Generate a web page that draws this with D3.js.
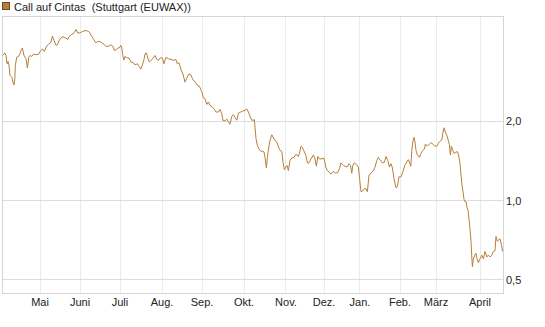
<!DOCTYPE html>
<html><head><meta charset="utf-8">
<script src="https://cdn.jsdelivr.net/npm/d3@7"></script>
<style>html,body{margin:0;padding:0;background:#fff;}svg{display:block;font-family:"Liberation Sans",Arial,sans-serif;}</style>
</head><body>
<svg id="c" width="545" height="327"></svg>
<script>
const title = "Call auf Cintas  (Stuttgart (EUWAX))";
const monthLabels = ["Mai","Juni","Juli","Aug.","Sep.","Okt.","Nov.","Dez.","Jan.","Feb.","März","April"];
const monthStartDay = [19,39,59,80,100,121,142,161,179,199,217,239];
const yTicks = [0.5,1.0,2.0];
const tradingDay = [0.3,1.0,1.5,2.0,2.5,3.0,3.5,4.0,4.9,5.4,6.0,6.4,6.7,7.4,8.2,9.0,9.5,10.2,11.0,12.0,12.7,13.4,14.0,14.9,15.7,16.9,18.2,19.4,20.2,21.2,22.0,23.2,24.4,25.2,26.0,27.0,27.7,28.7,30.0,31.0,32.0,32.9,33.7,34.9,36.0,37.0,37.9,39.0,40.2,41.5,42.7,43.7,44.4,45.7,46.9,47.7,49.0,
50.7,51.9,53.2,54.4,55.4,56.2,57.0,57.9,58.7,59.4,59.9,60.4,60.9,61.5,62.4,63.5,64.5,65.7,66.5,67.7,68.5,69.4,70.2,71.0,71.5,72.2,72.9,73.7,74.5,75.5,76.5,77.4,78.2,79.2,80.2,81.0,81.9,83.2,84.5,85.7,86.9,87.7,88.5,89.4,90.4,91.0,91.5,92.4,93.5,94.5,95.4,96.5,97.5,98.7,
99.9,100.7,101.5,102.4,103.2,104.0,105.2,106.2,107.0,108.2,109.0,109.9,110.5,111.5,112.4,113.2,114.0,114.9,115.7,116.5,117.4,118.2,119.4,120.4,121.5,122.4,123.2,124.0,124.9,125.7,126.2,126.5,127.0,127.7,128.5,129.4,130.4,131.0,131.5,132.2,132.7,133.4,134.0,134.9,135.7,136.5,137.4,138.2,139.0,139.9,140.5,141.2,141.9,142.5,143.2,144.0,144.9,146.0,147.0,148.2,148.9,
149.5,150.2,151.2,152.0,152.7,153.5,154.5,155.7,156.5,157.2,157.9,158.7,159.9,161.0,161.9,162.7,163.7,164.5,165.7,166.9,167.9,168.7,169.5,170.7,171.5,172.5,173.5,174.2,174.9,175.4,176.2,177.2,178.2,178.9,179.5,180.4,181.2,182.0,182.7,183.5,184.5,185.7,186.5,187.4,188.2,189.0,190.2,191.2,192.0,192.9,193.7,194.5,195.2,196.0,196.9,197.7,198.5,199.5,
200.5,201.4,202.4,203.2,204.0,204.4,204.9,205.4,206.0,206.5,207.0,207.7,208.7,209.5,210.4,211.2,211.7,212.7,213.7,214.5,215.4,216.5,217.4,218.2,219.0,219.9,220.4,221.0,221.7,222.4,223.2,223.7,224.2,224.7,225.4,226.0,227.0,227.9,228.5,229.0,229.5,230.0,230.5,231.0,231.5,232.0,232.5,233.0,233.5,234.0,234.5,234.9,235.2,235.7,236.4,237.0,237.5,238.2,239.0,239.9,240.7,241.5,242.4,243.2,244.0,244.9,245.7,246.5,247.0,247.7,248.4,249.0,249.7,250.3];
const price = [3.56,3.61,3.64,3.56,3.31,3.38,3.26,2.99,2.94,2.83,2.75,2.90,3.28,3.51,3.53,3.61,3.72,3.80,3.56,3.46,3.19,3.51,3.56,3.53,3.60,3.59,3.59,3.72,3.77,3.69,3.83,3.93,3.98,4.22,4.06,3.89,3.91,4.08,4.19,4.18,4.14,4.10,4.22,4.28,4.34,4.47,4.33,4.34,4.39,4.43,4.41,4.37,4.26,4.12,3.98,4.02,4.02,
3.94,3.86,3.86,3.91,3.86,3.72,3.74,3.80,3.81,3.89,3.80,3.56,3.42,3.53,3.49,3.48,3.36,3.34,3.28,3.31,3.24,3.16,3.28,3.44,3.61,3.64,3.48,3.36,3.41,3.48,3.56,3.44,3.41,3.49,3.48,3.31,3.50,3.46,3.44,3.41,3.44,3.31,3.34,3.16,3.03,2.92,2.82,2.92,3.03,3.00,2.88,2.83,2.75,2.72,
2.59,2.46,2.44,2.32,2.37,2.30,2.27,2.22,2.17,2.17,2.22,2.14,2.01,2.01,2.04,1.99,1.95,2.09,2.12,2.07,2.02,2.15,2.17,2.19,2.20,2.23,2.17,2.09,2.02,2.02,2.03,1.90,1.72,1.62,1.57,1.54,1.54,1.53,1.46,1.33,1.46,1.60,1.69,1.78,1.73,1.69,1.67,1.60,1.55,1.54,1.40,1.31,1.34,1.36,1.30,1.42,1.45,1.46,1.50,1.47,1.53,
1.61,1.59,1.53,1.48,1.39,1.39,1.44,1.49,1.44,1.35,1.47,1.44,1.44,1.45,1.34,1.30,1.28,1.26,1.29,1.27,1.28,1.32,1.39,1.36,1.35,1.34,1.38,1.36,1.27,1.36,1.39,1.37,1.34,1.19,1.08,1.09,1.11,1.11,1.08,1.25,1.27,1.30,1.34,1.42,1.46,1.43,1.39,1.40,1.47,1.42,1.34,1.38,1.33,1.21,1.12,1.13,1.23,1.23,
1.29,1.36,1.40,1.43,1.38,1.35,1.55,1.67,1.74,1.67,1.55,1.49,1.46,1.51,1.55,1.57,1.64,1.61,1.64,1.66,1.64,1.61,1.61,1.65,1.68,1.70,1.80,1.89,1.82,1.77,1.69,1.63,1.49,1.61,1.55,1.51,1.53,1.53,1.46,1.38,1.25,1.14,1.08,1.01,0.99,0.99,0.94,0.92,0.85,0.78,0.70,0.61,0.56,0.60,0.62,0.63,0.60,0.58,0.60,0.62,0.60,0.64,0.61,0.62,0.61,0.62,0.64,0.645,0.73,0.70,0.71,0.715,0.68,0.64];

const svg = d3.select("#c");
const L = 2, R = 503, T = 16, B = 293;
const x = d3.scaleLinear().domain([0, 250]).range([2, 502]);
const y = d3.scaleLog().domain([0.445, 5.03]).range([B, T]);
const cx = v => Math.floor(v) + 0.5;

// vertical grid
svg.append("g").selectAll("line").data(monthStartDay).join("line")
  .attr("x1", d => cx(x(d))).attr("x2", d => cx(x(d)))
  .attr("y1", T).attr("y2", B)
  .attr("stroke", "#ececec").attr("stroke-width", 1);
// horizontal grid
svg.append("g").selectAll("line").data(yTicks).join("line")
  .attr("x1", L).attr("x2", R)
  .attr("y1", d => cx(y(d))).attr("y2", d => cx(y(d)))
  .attr("stroke", "#dcdcdc").attr("stroke-width", 1);
// frame
svg.append("rect").attr("x", L + 0.5).attr("y", T + 0.5)
  .attr("width", R - L).attr("height", B - T)
  .attr("fill", "none").attr("stroke", "#d6d6d6");

// line
const pts = tradingDay.map((t, i) => [t, price[i]]);
svg.append("path").datum(pts)
  .attr("fill", "none").attr("stroke", "#b5803a").attr("stroke-width", 1)
  .attr("d", d3.line().x(d => x(d[0])).y(d => y(d[1])));

// y labels
svg.append("g").selectAll("text").data(yTicks).join("text")
  .attr("x", 506).attr("y", d => y(d) + 4)
  .attr("font-size", 11).attr("fill", "#222")
  .text(d => d3.format(".1f")(d).replace(".", ","));
// x labels
svg.append("g").selectAll("text").data(monthStartDay).join("text")
  .attr("x", d => x(d)).attr("y", 306)
  .attr("text-anchor", "middle").attr("font-size", 11).attr("fill", "#222")
  .text((d, i) => monthLabels[i]);

// legend
svg.append("rect").attr("x", 2.5).attr("y", 2.5).attr("width", 7).attr("height", 7)
  .attr("fill", "#b5803a").attr("stroke", "#6b4a1e");
svg.append("text").attr("x", 14).attr("y", 10.5).attr("font-size", 11).attr("fill", "#222")
  .style("white-space", "pre").text(title);
</script>
</body></html>
